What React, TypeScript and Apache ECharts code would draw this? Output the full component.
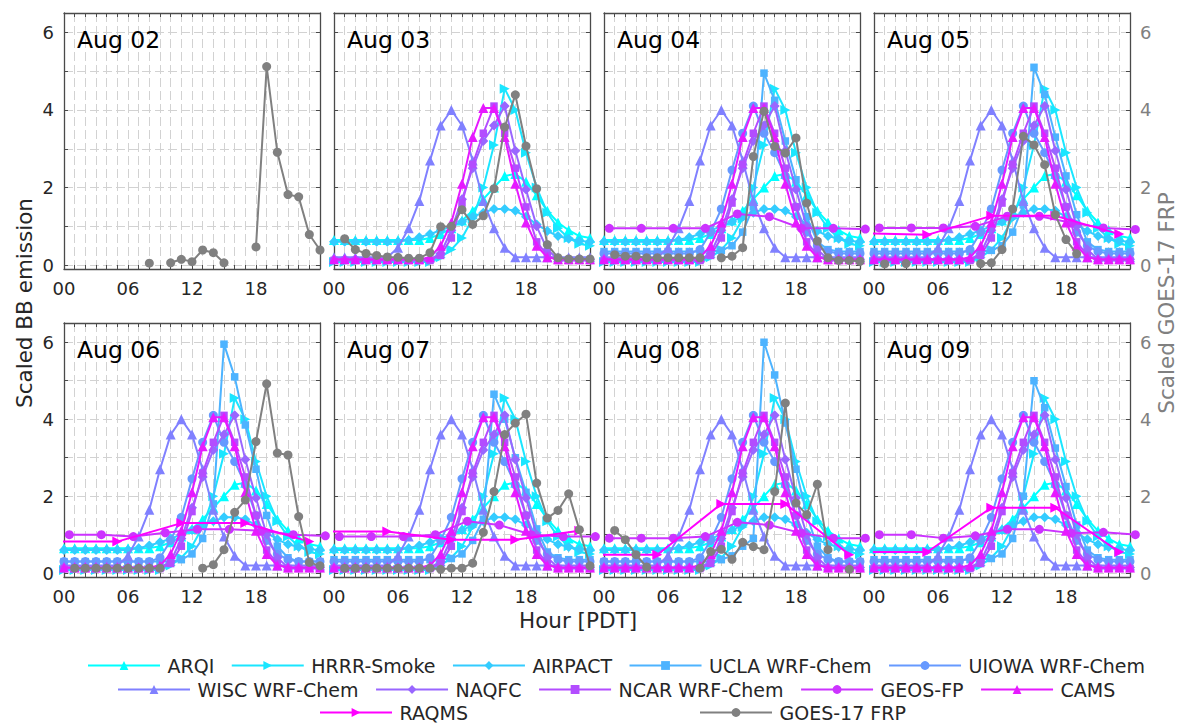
import React, { useEffect, useRef } from "react";
import * as echarts from "echarts";

// ---- panels -------------------------------------------------------------
const DAYS = ["Aug 02", "Aug 03", "Aug 04", "Aug 05", "Aug 06", "Aug 07", "Aug 08", "Aug 09"];

// ---- x positions (hour of day, PDT) --------------------------------------
const MODEL_HOURS = [0, 1, 2, 3, 4, 5, 6, 7, 8, 9, 10, 11, 12, 13, 14, 15, 16, 17, 18, 19, 20, 21, 22, 23, 24];
const OBS_HOURS = [1, 2, 3, 4, 5, 6, 7, 8, 9, 10, 11, 12, 13, 14, 15, 16, 17, 18, 19, 20, 21, 22, 23, 24];
const GEOS_HOURS = [0.5, 3.5, 6.5, 9.5, 12.5, 15.5, 18.5, 21.5, 24.5];
const RAQMS_HOURS = [-1, 5, 11, 17, 23];

// ---- diurnal profiles that repeat every forecast day ---------------------
const ARQI = [0.65, 0.65, 0.65, 0.65, 0.65, 0.65, 0.65, 0.65, 0.65, 0.7, 0.8, 0.95, 1.15, 1.4, 1.7, 2.0, 2.3, 2.35, 2.15, 1.8, 1.4, 1.1, 0.9, 0.75, 0.7];
const HRRR = [0.08, 0.08, 0.08, 0.08, 0.08, 0.08, 0.08, 0.08, 0.08, 0.08, 0.2, 0.4, 0.7, 1.2, 2.0, 3.1, 4.55, 4.0, 2.9, 2.0, 1.35, 0.95, 0.7, 0.55, 0.5];
const AIRPACT = [0.6, 0.6, 0.6, 0.6, 0.6, 0.6, 0.6, 0.65, 0.72, 0.8, 0.9, 1.0, 1.12, 1.25, 1.35, 1.45, 1.45, 1.4, 1.25, 1.05, 0.88, 0.75, 0.68, 0.62, 0.6];
const UIOWA = [0.3, 0.3, 0.3, 0.3, 0.3, 0.3, 0.3, 0.3, 0.3, 0.4, 0.85, 1.45, 2.45, 3.4, 4.1, 3.4, 2.9, 2.3, 1.5, 0.85, 0.5, 0.35, 0.3, 0.3, 0.3];
const WISC = [0.2, 0.2, 0.2, 0.2, 0.2, 0.2, 0.45, 0.95, 1.65, 2.7, 3.6, 4.0, 3.6, 2.7, 1.65, 0.95, 0.45, 0.2, 0.2, 0.2, 0.2, 0.2, 0.2, 0.2, 0.2];
const NAQFC = [0.15, 0.15, 0.15, 0.15, 0.15, 0.15, 0.15, 0.15, 0.15, 0.15, 0.3, 0.9, 1.7, 2.5, 3.2, 3.6, 4.1, 2.95, 1.95, 1.0, 0.4, 0.15, 0.15, 0.15, 0.15];
const NCAR = [0.12, 0.12, 0.12, 0.12, 0.12, 0.12, 0.12, 0.12, 0.12, 0.12, 0.25, 0.7, 1.6, 2.6, 3.4, 4.1, 3.4, 2.5, 1.5, 0.6, 0.25, 0.12, 0.12, 0.12, 0.12];
const CAMS = [0.15, 0.15, 0.15, 0.15, 0.15, 0.15, 0.15, 0.15, 0.15, 0.2, 0.5, 1.1, 2.1, 3.3, 4.05, 4.05, 3.3, 2.1, 1.1, 0.5, 0.2, 0.15, 0.15, 0.15, 0.15];

// ---- UCLA WRF-Chem, one curve per day ------------------------------------
const UCLA_AUG04 = [0.35, 0.35, 0.35, 0.35, 0.35, 0.35, 0.35, 0.35, 0.35, 0.35, 0.35, 0.38, 0.5, 0.85, 1.5, 4.95, 4.25, 3.2, 2.2, 1.25, 0.6, 0.4, 0.35, 0.35, 0.35];
const UCLA_AUG05 = [0.35, 0.35, 0.35, 0.35, 0.35, 0.35, 0.35, 0.35, 0.35, 0.35, 0.35, 0.38, 0.5, 0.85, 1.55, 5.1, 4.4, 3.3, 2.3, 1.3, 0.6, 0.4, 0.35, 0.35, 0.35];
const UCLA_AUG06 = [0.3, 0.3, 0.3, 0.3, 0.3, 0.3, 0.3, 0.3, 0.3, 0.3, 0.3, 0.35, 0.5, 0.9, 1.8, 5.95, 5.1, 3.85, 2.7, 1.5, 0.7, 0.4, 0.3, 0.3, 0.3];
const UCLA_AUG07 = [0.35, 0.35, 0.35, 0.35, 0.35, 0.35, 0.35, 0.35, 0.35, 0.35, 0.35, 0.38, 0.5, 0.85, 1.4, 4.65, 4.0, 3.0, 2.1, 1.15, 0.55, 0.4, 0.35, 0.35, 0.35];
const UCLA_AUG08 = [0.3, 0.3, 0.3, 0.3, 0.3, 0.3, 0.3, 0.3, 0.3, 0.3, 0.3, 0.35, 0.45, 0.7, 0.9, 6.0, 5.15, 3.9, 2.7, 1.5, 0.7, 0.4, 0.3, 0.3, 0.3];
const UCLA_AUG09 = [0.35, 0.35, 0.35, 0.35, 0.35, 0.35, 0.35, 0.35, 0.35, 0.35, 0.35, 0.38, 0.5, 0.9, 2.0, 5.0, 4.3, 3.25, 2.25, 1.25, 0.6, 0.4, 0.35, 0.35, 0.35];

// ---- GEOS-FP (3-hourly) --------------------------------------------------
const GEOS_AUG04 = [0.95, 0.95, 0.95, 0.95, 1.32, 1.25, 0.95, 0.95, 0.93];
const GEOS_AUG05 = [0.96, 0.96, 0.96, 1.0, 1.26, 1.26, 1.09, 0.96, 0.92];
const GEOS_AUG06 = [1.0, 1.0, 0.95, 1.05, 1.14, 1.14, 1.1, 1.0, 0.97];
const GEOS_AUG07 = [0.95, 0.95, 0.95, 1.0, 1.35, 1.25, 1.0, 0.95, 0.95];
const GEOS_AUG08 = [0.91, 0.91, 0.91, 0.95, 1.32, 1.25, 1.04, 0.91, 0.91];
const GEOS_AUG09 = [1.0, 1.0, 0.91, 0.97, 1.14, 1.14, 1.04, 1.06, 1.0];

// ---- RAQMS (6-hourly) ----------------------------------------------------
const RAQMS_AUG05 = [0.82, 0.78, 1.27, 1.27, 0.8];
const RAQMS_AUG06 = [0.82, 0.82, 1.3, 1.3, 0.82];
const RAQMS_AUG07 = [1.08, 1.08, 0.87, 0.87, 1.1];
const RAQMS_AUG08 = [0.48, 0.48, 1.8, 1.8, 0.48];
const RAQMS_AUG09 = [0.55, 0.55, 1.7, 1.7, 0.55];

// ---- GOES-17 FRP (hourly, gaps are missing retrievals) --------------------
const GOES_AUG02 = [null, null, null, null, null, null, null, 0.05, null, 0.06, 0.15, 0.09, 0.39, 0.32, 0.06, null, null, 0.47, 5.12, 2.91, 1.82, 1.76, 0.79, 0.39];
const GOES_AUG03 = [0.68, 0.4, 0.3, 0.25, 0.21, 0.2, 0.18, 0.18, 0.32, 0.99, 1.0, 1.43, 1.05, 1.27, 1.97, 3.56, 4.39, 3.07, 1.97, 0.53, 0.19, 0.16, 0.16, 0.16];
const GOES_AUG04 = [0.27, 0.23, 0.23, 0.19, 0.19, 0.19, 0.19, 0.19, 0.19, null, 0.19, 0.23, 0.45, 2.8, 3.97, 3.06, 2.89, 3.28, 1.6, 0.62, 0.19, 0.12, 0.12, 0.1];
const GOES_AUG05 = [0.03, null, 0.04, null, null, null, null, null, null, 0.04, 0.06, 0.4, 1.45, 3.32, 3.1, 2.59, 1.3, 0.66, 0.29, null, null, null, null, null];
const GOES_AUG06 = [0.13, 0.13, 0.13, 0.13, 0.13, 0.13, 0.13, 0.13, 0.13, null, null, null, 0.13, 0.22, 0.61, 1.58, 1.9, 3.42, 4.92, 3.12, 3.07, 1.47, 0.28, 0.19];
const GOES_AUG07 = [0.13, 0.13, 0.13, 0.13, 0.13, 0.13, 0.13, 0.13, 0.13, 0.1, 0.13, 0.13, 0.26, 1.06, 2.12, 3.6, 3.9, 4.13, 2.34, 1.43, 1.63, 2.06, 1.13, 0.19];
const GOES_AUG08 = [1.11, 0.87, 0.48, 0.16, null, null, null, null, 0.13, 0.56, 0.62, 0.36, 0.8, 0.69, 0.61, 2.12, 4.42, 1.82, 1.52, 2.31, 0.61, null, 0.1, null];

type Series = {
  name: string;
  color: string;
  symbol: string;
  rotate?: number;
  size: number;
  hours: number[];
  clip: boolean;
  days: ((number | null)[] | null)[]; // one entry per panel
};

const MODELS: Series[] = [
  { name: "ARQI", color: "#00ffff", symbol: "triangle", size: 10, hours: MODEL_HOURS, clip: true,
    days: [null, ARQI, ARQI, ARQI, ARQI, ARQI, ARQI, ARQI] },
  { name: "HRRR-Smoke", color: "#1ae6ff", symbol: "triangle", rotate: -90, size: 10, hours: MODEL_HOURS, clip: true,
    days: [null, HRRR, HRRR, HRRR, HRRR, HRRR, HRRR, HRRR] },
  { name: "AIRPACT", color: "#33ccff", symbol: "diamond", size: 10, hours: MODEL_HOURS, clip: true,
    days: [null, AIRPACT, AIRPACT, AIRPACT, AIRPACT, AIRPACT, AIRPACT, AIRPACT] },
  { name: "UCLA WRF-Chem", color: "#4db3ff", symbol: "rect", size: 7.5, hours: MODEL_HOURS, clip: true,
    days: [null, null, UCLA_AUG04, UCLA_AUG05, UCLA_AUG06, UCLA_AUG07, UCLA_AUG08, UCLA_AUG09] },
  { name: "UIOWA WRF-Chem", color: "#6699ff", symbol: "circle", size: 9, hours: MODEL_HOURS, clip: true,
    days: [null, null, UIOWA, UIOWA, UIOWA, UIOWA, UIOWA, UIOWA] },
  { name: "WISC WRF-Chem", color: "#8080ff", symbol: "triangle", size: 10, hours: MODEL_HOURS, clip: true,
    days: [null, WISC, WISC, WISC, WISC, WISC, WISC, WISC] },
  { name: "NAQFC", color: "#9966ff", symbol: "diamond", size: 10, hours: MODEL_HOURS, clip: true,
    days: [null, NAQFC, NAQFC, NAQFC, NAQFC, NAQFC, NAQFC, NAQFC] },
  { name: "NCAR WRF-Chem", color: "#b34dff", symbol: "rect", size: 7.5, hours: MODEL_HOURS, clip: true,
    days: [null, NCAR, NCAR, NCAR, NCAR, NCAR, NCAR, NCAR] },
  { name: "GEOS-FP", color: "#cc33ff", symbol: "circle", size: 9, hours: GEOS_HOURS, clip: false,
    days: [null, null, GEOS_AUG04, GEOS_AUG05, GEOS_AUG06, GEOS_AUG07, GEOS_AUG08, GEOS_AUG09] },
  { name: "CAMS", color: "#e61aff", symbol: "triangle", size: 10, hours: MODEL_HOURS, clip: true,
    days: [null, CAMS, CAMS, CAMS, CAMS, CAMS, CAMS, CAMS] },
  { name: "RAQMS", color: "#ff00ff", symbol: "triangle", rotate: -90, size: 10, hours: RAQMS_HOURS, clip: true,
    days: [null, null, null, RAQMS_AUG05, RAQMS_AUG06, RAQMS_AUG07, RAQMS_AUG08, RAQMS_AUG09] },
  { name: "GOES-17 FRP", color: "#808080", symbol: "circle", size: 9, hours: OBS_HOURS, clip: true,
    days: [GOES_AUG02, GOES_AUG03, GOES_AUG04, GOES_AUG05, GOES_AUG06, GOES_AUG07, GOES_AUG08, null] },
];

// legend blocks: entries, left edge, top edge
const LEGEND_BLOCKS: [string[], number, number][] = [
  [["ARQI", "HRRR-Smoke", "AIRPACT", "UCLA WRF-Chem", "UIOWA WRF-Chem"], 87, 656],
  [["WISC WRF-Chem", "NAQFC", "NCAR WRF-Chem", "GEOS-FP", "CAMS"], 117, 680],
  [["RAQMS"], 319, 703],
  [["GOES-17 FRP"], 699, 703],
];

const FONT = "DejaVu Sans";
const FRAME = "#4a4a4a";
const GRIDLINE = "#d2d2d2";
const TEXT = "#262626";

const PANEL_LEFT = 64;
const PANEL_STEP = 270;
const PANEL_W = 256;
const ROW_TOP = [13, 323];
const ROW_H = [256, 254];

function hourLabel(v: number) {
  return v % 6 === 0 && v < 24 ? String(v).padStart(2, "0") : "";
}
function evenLabel(v: number) {
  const r = Math.round(v);
  return Math.abs(v - r) < 1e-6 && r % 2 === 0 ? String(r) : "";
}

function buildOption() {
  const grid: any[] = [];
  const xAxis: any[] = [];
  const yAxis: any[] = [];
  const series: any[] = [];
  const graphic: any[] = [];

  const frameLine = { show: true, onZero: false, lineStyle: { color: FRAME, width: 1.3 } };
  const inTick = { show: true, inside: true, length: 4, lineStyle: { color: FRAME, width: 1 } };
  const dashed = { show: true, lineStyle: { color: GRIDLINE, width: 1, type: [9, 4] } };

  DAYS.forEach((day, i) => {
    const col = i % 4;
    const row = Math.floor(i / 4);
    const left = PANEL_LEFT + col * PANEL_STEP;
    const top = ROW_TOP[row];
    grid.push({ left, top, width: PANEL_W, height: ROW_H[row] });

    xAxis.push({
      gridIndex: i, type: "value", min: 0, max: 24, interval: 1,
      axisLine: frameLine, axisTick: inTick, splitLine: dashed,
      axisLabel: { formatter: hourLabel, fontSize: 18, fontFamily: FONT, color: TEXT, margin: 10, showMinLabel: true, showMaxLabel: true, hideOverlap: false },
    });
    xAxis.push({
      gridIndex: i, type: "value", position: "top", min: 0, max: 24, interval: 1,
      axisLine: frameLine, axisTick: inTick, splitLine: { show: false }, axisLabel: { show: false },
    });
    yAxis.push({
      gridIndex: i, type: "value", position: "left", min: -0.1, max: 6.5, splitNumber: 7,
      axisLine: frameLine, axisTick: inTick, splitLine: dashed,
      axisLabel: { show: col === 0, formatter: evenLabel, fontSize: 18, fontFamily: FONT, color: TEXT, margin: 10, showMinLabel: true, showMaxLabel: true },
    });
    yAxis.push({
      gridIndex: i, type: "value", position: "right", min: -0.1, max: 6.5, splitNumber: 7,
      axisLine: frameLine, axisTick: inTick, splitLine: { show: false },
      axisLabel: { show: col === 3, formatter: evenLabel, fontSize: 18, fontFamily: FONT, color: "#808080", margin: 10, showMinLabel: true, showMaxLabel: true },
    });

    MODELS.forEach((m, k) => {
      const vals = m.days[i];
      if (!vals) return;
      series.push({
        type: "line",
        name: m.name,
        xAxisIndex: 2 * i,
        yAxisIndex: 2 * i,
        data: m.hours.map((h, j) => [h, vals[j] === null ? "-" : vals[j]]),
        symbol: m.symbol,
        symbolSize: m.size,
        symbolRotate: m.rotate || 0,
        showSymbol: true,
        connectNulls: false,
        clip: m.clip,
        lineStyle: { color: m.color, width: 2 },
        itemStyle: { color: m.color },
        emphasis: { disabled: true },
        z: 2 + k * 0.01,
      });
    });

    graphic.push({
      type: "text", x: left + 13, y: top + 27,
      style: { text: day, font: `23.5px '${FONT}'`, fill: "#000", verticalAlign: "middle", align: "left" },
      z: 100,
    });
  });

  graphic.push(
    { type: "text", x: 24, y: 303, rotation: Math.PI / 2,
      style: { text: "Scaled BB emission", font: `21.5px '${FONT}'`, fill: TEXT, align: "center", verticalAlign: "middle" } },
    { type: "text", x: 1166, y: 303, rotation: Math.PI / 2,
      style: { text: "Scaled GOES-17 FRP", font: `21.5px '${FONT}'`, fill: "#808080", align: "center", verticalAlign: "middle" } },
    { type: "text", x: 578, y: 620,
      style: { text: "Hour [PDT]", font: `21.5px '${FONT}'`, fill: TEXT, align: "center", verticalAlign: "middle" } },
  );

  const legend = LEGEND_BLOCKS.map(([names, left, top]) => ({
    data: names,
    left,
    top,
    orient: "horizontal",
    itemWidth: 72,
    itemHeight: 11,
    itemGap: 16.5,
    padding: 0,
    selectedMode: true,
    textStyle: { fontSize: 19, fontFamily: FONT, color: TEXT, padding: [0, 0, 0, 2.5] },
  }));

  return {
    animation: false,
    backgroundColor: "#ffffff",
    textStyle: { fontFamily: FONT },
    grid,
    xAxis,
    yAxis,
    series,
    legend,
    graphic,
  };
}

export default function App() {
  const ref = useRef<HTMLDivElement>(null);
  useEffect(() => {
    document.body.style.margin = "0";
    const chart = echarts.init(ref.current as HTMLDivElement, undefined, { renderer: "svg" });
    chart.setOption(buildOption() as any);
    return () => chart.dispose();
  }, []);
  return <div ref={ref} style={{ width: 1178, height: 723 }} />;
}
